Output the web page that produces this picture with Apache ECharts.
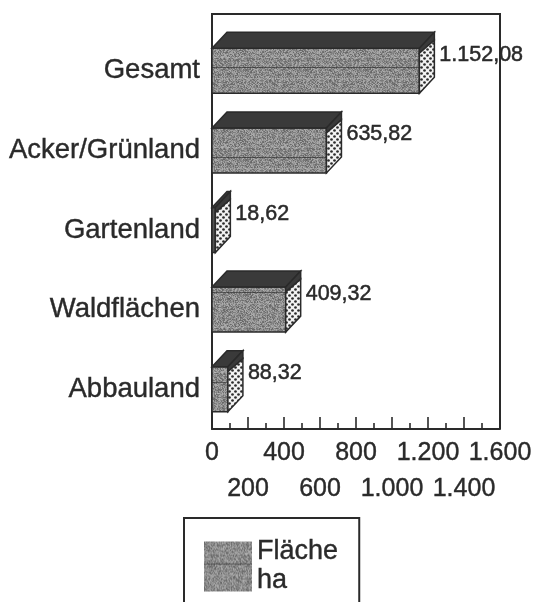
<!DOCTYPE html>
<html><head><meta charset="utf-8">
<style>html,body{margin:0;padding:0;background:#fff;overflow:hidden}#c{width:537px;height:602px;filter:blur(0.5px)}</style>
<script src="https://cdn.jsdelivr.net/npm/echarts@6/dist/echarts.min.js"></script>
</head><body><div id="c"></div>
<script>
const categories = ['Gesamt','Acker/Grünland','Gartenland','Waldflächen','Abbauland'];
const flaeche = [1152.08, 635.82, 18.62, 409.32, 88.32];
const valueLabels = ['1.152,08','635,82','18,62','409,32','88,32'];
const seriesName = 'Fläche\nha';

function tile(w,h,draw){const c=document.createElement('canvas');c.width=w;c.height=h;draw(c.getContext('2d'));return c;}
const grain = tile(60,45,g=>{
  for(let y=0;y<45;y++)for(let x=0;x<60;x++){
    const n=Math.sin(x*12.9898+y*78.233)*43758.5453; const f=n-Math.floor(n);
    const v=Math.round(100+f*75);
    g.fillStyle='rgb('+v+','+v+','+v+')';g.fillRect(x,y,1,1);
  }
  g.fillStyle='rgba(40,40,40,.6)';g.fillRect(0,22,60,1);
  g.fillStyle='rgba(230,230,230,.2)';g.fillRect(0,12,60,1);g.fillRect(0,33,60,1);
});
const dots = tile(6,6,g=>{
  g.fillStyle='#f2f2f2';g.fillRect(0,0,6,6);
  g.fillStyle='#2c2c2c';
  [[1.5,1.5],[4.5,4.5]].forEach(p=>{g.beginPath();g.arc(p[0],p[1],1.35,0,7);g.fill();});
});
const grainFill={image:grain,repeat:'repeat'};
const dotFill={image:dots,repeat:'repeat'};
const DX=15,DY=16,HALF=22.5;
const ink='#2a2a2a';

function renderBar(params,api){
  const v=api.value(0), idx=api.value(1);
  const p0=api.coord([0,idx]), p1=api.coord([v,idx]);
  const x0=p0[0],x1=p1[0],t=p1[1]-HALF,b=p1[1]+HALF;
  const line={stroke:ink,lineWidth:1.5};
  const ch=[];
  ch.push({type:'rect',shape:{x:x0,y:t,width:x1-x0,height:b-t},style:Object.assign({fill:x1-x0>10?grainFill:'#555'},line)});
  ch.push({type:'polygon',shape:{points:[[x0,t],[x0+DX,t-DY],[x1+DX,t-DY],[x1,t]]},style:Object.assign({fill:'#3a3a3a'},line)});
  ch.push({type:'polygon',shape:{points:[[x1,t],[x1+DX,t-DY],[x1+DX,t-DY+8],[x1,t+5]]},style:Object.assign({fill:'#3a3a3a'},line)});
  ch.push({type:'polygon',shape:{points:[[x1,t+5],[x1+DX,t-DY+8],[x1+DX,b-DY],[x1,b]]},style:Object.assign({fill:dotFill},line)});
  ch.push({type:'text',style:{text:valueLabels[idx],x:x1+DX+5,y:p1[1]-16,verticalAlign:'middle',align:'left',fill:ink,font:'21.5px "Liberation Sans"',stroke:ink,lineWidth:0.5}});
  return {type:'group',children:ch};
}
const fmt=v=>v>=1000?Math.floor(v/1000)+'.'+String(v%1000).padStart(3,'0'):String(v);
const tickLabelStyle={color:ink,fontFamily:'Liberation Sans',fontSize:25,interval:0,hideOverlap:false,showMinLabel:true,showMaxLabel:true,textBorderColor:ink,textBorderWidth:0.4};
const chart=echarts.init(document.getElementById('c'),null,{renderer:'canvas'});
chart.setOption({
  animation:false,backgroundColor:'#fff',
  grid:{left:212,top:31,width:288,height:398},
  xAxis:[{type:'value',min:0,max:1600,interval:200,
    axisLine:{show:true,lineStyle:{color:ink,width:2}},
    axisTick:{show:true,inside:true,length:12,lineStyle:{color:ink,width:1.6}},
    minorTick:{show:true,splitNumber:2,length:6,lineStyle:{color:ink,width:1.6}},
    splitLine:{show:false},
    axisLabel:Object.assign({margin:12,formatter:v=>(v/200)%2?'':fmt(v)},tickLabelStyle)
  },{type:'value',position:'bottom',min:0,max:1600,interval:200,
    axisLine:{show:false},axisTick:{show:false},splitLine:{show:false},
    axisLabel:Object.assign({margin:48,formatter:v=>(v/200)%2?fmt(v):''},tickLabelStyle)
  }],
  yAxis:{type:'category',inverse:true,data:categories,
    axisLine:{show:true,lineStyle:{color:ink,width:2}},axisTick:{show:false},
    axisLabel:{margin:12,color:ink,fontFamily:'Liberation Sans',fontSize:27.5,padding:[4,0,0,0],textBorderColor:ink,textBorderWidth:0.4}},
  legend:{left:184,top:518,orient:'vertical',padding:[19,21,30,20],borderColor:ink,borderWidth:2,
    itemWidth:48,itemHeight:50,itemGap:0,icon:'rect',
    textStyle:{color:ink,fontFamily:'Liberation Sans',fontSize:27,lineHeight:29,padding:[1,0,0,0],textBorderColor:ink,textBorderWidth:0.4},
    data:[seriesName]},
  series:[{type:'custom',name:seriesName,coordinateSystem:'cartesian2d',renderItem:renderBar,
    itemStyle:{color:grainFill},
    encode:{x:0,y:1},
    data:flaeche.map((v,i)=>[v,i])}],
  graphic:[{type:'polyline',silent:true,shape:{points:[[212,31],[212,14],[500,14],[500,429]]},style:{fill:null,stroke:ink,lineWidth:2}}]
});
</script></body></html>
